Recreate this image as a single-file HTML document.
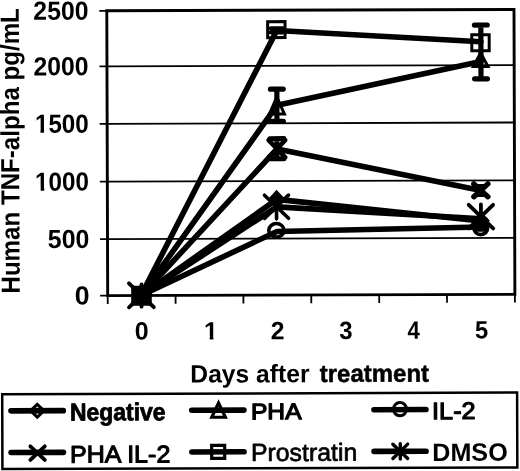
<!DOCTYPE html>
<html><head><meta charset="utf-8"><title>TNF-alpha chart</title>
<style>
html,body{margin:0;padding:0;background:#fff;}
body{width:520px;height:471px;overflow:hidden;}
svg{display:block;filter:grayscale(1);font-family:"Liberation Sans",sans-serif;fill:#000;}
</style></head><body>
<svg width="520" height="471" viewBox="0 0 520 471">
<rect width="520" height="471" fill="#fff"/>
<g transform="rotate(-0.18 260 235.5)">

<line x1="107.5" x2="514.7" y1="238.6" y2="238.6" stroke="#000" stroke-width="1.8"/>
<line x1="107.5" x2="514.7" y1="181.2" y2="181.2" stroke="#000" stroke-width="1.8"/>
<line x1="107.5" x2="514.7" y1="123.3" y2="123.3" stroke="#000" stroke-width="1.8"/>
<line x1="107.5" x2="514.7" y1="65.9" y2="65.9" stroke="#000" stroke-width="1.8"/>
<rect x="107.5" y="10.3" width="407.20000000000005" height="284.84999999999997" fill="none" stroke="#000" stroke-width="2.9"/>
<line x1="100" x2="107.5" y1="295.1" y2="295.1" stroke="#000" stroke-width="1.8"/>
<line x1="100" x2="107.5" y1="238.6" y2="238.6" stroke="#000" stroke-width="1.8"/>
<line x1="100" x2="107.5" y1="181.2" y2="181.2" stroke="#000" stroke-width="1.8"/>
<line x1="100" x2="107.5" y1="123.3" y2="123.3" stroke="#000" stroke-width="1.8"/>
<line x1="100" x2="107.5" y1="65.9" y2="65.9" stroke="#000" stroke-width="1.8"/>
<line x1="100" x2="107.5" y1="10.3" y2="10.3" stroke="#000" stroke-width="1.8"/>
<line x1="107.5" x2="107.5" y1="295.15" y2="303.4" stroke="#000" stroke-width="1.8"/>
<line x1="175.4" x2="175.4" y1="295.15" y2="303.4" stroke="#000" stroke-width="1.8"/>
<line x1="243.2" x2="243.2" y1="295.15" y2="303.4" stroke="#000" stroke-width="1.8"/>
<line x1="311.1" x2="311.1" y1="295.15" y2="303.4" stroke="#000" stroke-width="1.8"/>
<line x1="379.0" x2="379.0" y1="295.15" y2="303.4" stroke="#000" stroke-width="1.8"/>
<line x1="446.8" x2="446.8" y1="295.15" y2="303.4" stroke="#000" stroke-width="1.8"/>
<line x1="514.7" x2="514.7" y1="295.15" y2="303.4" stroke="#000" stroke-width="1.8"/>
<polyline points="140.8,295.1 277.4,30.5 481.5,42.4" fill="none" stroke="#000" stroke-width="5.6" stroke-linejoin="round" stroke-linecap="round"/>
<polyline points="141.2,295.1 277.5,105.3 481.4,62.2" fill="none" stroke="#000" stroke-width="5.6" stroke-linejoin="round" stroke-linecap="round"/>
<polyline points="141.2,295.1 277.4,149.0 481.1,191.2" fill="none" stroke="#000" stroke-width="5.6" stroke-linejoin="round" stroke-linecap="round"/>
<polyline points="140.8,295.1 277.0,199.4 481.0,221.7" fill="none" stroke="#000" stroke-width="5.6" stroke-linejoin="round" stroke-linecap="round"/>
<polyline points="140.8,295.1 277.0,206.9 481.0,219.5" fill="none" stroke="#000" stroke-width="5.6" stroke-linejoin="round" stroke-linecap="round"/>
<polyline points="140.8,295.1 277.0,231.5 481.0,227.7" fill="none" stroke="#000" stroke-width="5.6" stroke-linejoin="round" stroke-linecap="round"/>
<rect x="131.0" y="285.4" width="20.6" height="20" rx="1.5" fill="#000"/>
<path d="M128.8 282.9L153.6 306.9M128.8 306.9L153.6 282.9" stroke="#000" stroke-width="3.8" stroke-linecap="round" fill="none"/>
<path d="M141.3 284.1V306.3" stroke="#000" stroke-width="3.8" stroke-linecap="round" fill="none"/>
<path d="M270.9 89.2H283.7M270.9 121.4H283.7M277.3 89.2V121.4" stroke="#000" stroke-width="5.2" stroke-linecap="round" fill="none"/>
<path d="M277.3 97.1L284.8 114.1H269.8Z" fill="none" stroke="#000" stroke-width="3" stroke-linejoin="miter"/>
<path d="M271.5 28.4H283.5M271.5 32.4H283.5M277.5 28.4V32.4" stroke="#000" stroke-width="4.4" stroke-linecap="round" fill="none"/>
<rect x="268.3" y="21.7" width="17.4" height="16" fill="none" stroke="#000" stroke-width="3"/>
<path d="M270.2 138.7H284.2M270.2 158.8H284.2M277.2 138.7V158.8" stroke="#000" stroke-width="5.0" stroke-linecap="round" fill="none"/>
<path d="M268.9 140.2L285.5 157.4M268.9 157.4L285.5 140.2" stroke="#000" stroke-width="4.6" stroke-linecap="round" fill="none"/>
<path d="M264.6 195.2L288.6 218.4M264.6 218.4L288.6 195.2" stroke="#000" stroke-width="3.6" stroke-linecap="round" fill="none"/><path d="M276.6 194.7V218.9" stroke="#000" stroke-width="3.6" stroke-linecap="round" fill="none"/>
<path d="M276.7 192.1L283.6 199.4L276.7 206.7L269.8 199.4Z" fill="#000" stroke="#000" stroke-width="3" stroke-linejoin="miter"/>
<ellipse cx="276.4" cy="230.4" rx="7.6" ry="6.8" fill="none" stroke="#000" stroke-width="3.6"/>
<path d="M475.1 25.7H487.9M475.1 79.5H487.9M481.5 25.7V79.5" stroke="#000" stroke-width="5.2" stroke-linecap="round" fill="none"/>
<rect x="472.4" y="35.5" width="17.4" height="16" fill="none" stroke="#000" stroke-width="3"/>
<path d="M481.2 53.6L488.5 67.2H473.9Z" fill="none" stroke="#000" stroke-width="3" stroke-linejoin="miter"/>
<path d="M477.1 186.6H485.1M477.1 195.6H485.1M481.1 186.6V195.6" stroke="#000" stroke-width="4.0" stroke-linecap="round" fill="none"/>
<path d="M474.0 184.6L488.0 197.4M474.0 197.4L488.0 184.6" stroke="#000" stroke-width="5.4" stroke-linecap="round" fill="none"/>
<path d="M468.8 205.5L493.2 229.1M468.8 229.1L493.2 205.5" stroke="#000" stroke-width="3.8" stroke-linecap="round" fill="none"/><path d="M481.0 205.0V229.6" stroke="#000" stroke-width="3.8" stroke-linecap="round" fill="none"/>
<path d="M481.0 214.2L487.9 221.5L481.0 228.8L474.1 221.5Z" fill="#000" stroke="#000" stroke-width="3" stroke-linejoin="miter"/>
<rect x="473.6" y="218.5" width="14.8" height="14.0" rx="2" fill="#000"/>
<ellipse cx="480.8" cy="228.7" rx="6.9" ry="6.6" fill="none" stroke="#000" stroke-width="3.6"/>
<text transform="matrix(1.03295 0 0 1.08696 34.03 19.10)" font-size="24" font-weight="bold" >2500</text>
<text transform="matrix(1.03295 0 0 1.08696 34.03 74.70)" font-size="24" font-weight="bold" >2000</text>
<text transform="matrix(1.00980 0 0 1.08696 35.25 132.15)" font-size="24" font-weight="bold" >1500</text><path transform="matrix(1.00980 0 0 1.08696 35.25 132.15)" d="M0.5 -2.9H5.5V1.3H0.5ZM9.02 -2.9H13.9V1.3H9.02Z" fill="#fff"/>
<text transform="matrix(1.00980 0 0 1.08696 35.25 190.00)" font-size="24" font-weight="bold" >1000</text><path transform="matrix(1.00980 0 0 1.08696 35.25 190.00)" d="M0.5 -2.9H5.5V1.3H0.5ZM9.02 -2.9H13.9V1.3H9.02Z" fill="#fff"/>
<text transform="matrix(1.03710 0 0 1.08696 47.75 247.40)" font-size="24" font-weight="bold" >500</text>
<text transform="matrix(1.11404 0 0 1.08696 74.43 303.95)" font-size="24" font-weight="bold" >0</text>
<text transform="matrix(1.04386 0 0 1.03865 134.40 339.20)" font-size="24" font-weight="bold" >0</text>
<text transform="matrix(1.04167 0 0 1.03865 203.65 339.20)" font-size="24" font-weight="bold" >1</text><path transform="matrix(1.04167 0 0 1.03865 203.65 339.20)" d="M0.5 -2.9H5.5V1.3H0.5ZM9.02 -2.9H13.9V1.3H9.02Z" fill="#fff"/>
<text transform="matrix(1.03299 0 0 1.03865 270.53 339.20)" font-size="24" font-weight="bold" >2</text>
<text transform="matrix(1.00168 0 0 1.03865 338.80 339.20)" font-size="24" font-weight="bold" >3</text>
<text transform="matrix(0.92679 0 0 1.03865 407.07 339.20)" font-size="24" font-weight="bold" >4</text>
<text transform="matrix(0.99167 0 0 1.03865 474.69 339.20)" font-size="24" font-weight="bold" >5</text>
<text transform="matrix(1.02699 0 0 1.05072 189.90 382.40)" font-size="24" font-weight="bold" >Days after</text>
<text transform="matrix(1.00147 0 0 1.02053 319.21 382.15)" font-size="24" font-weight="bold"  stroke="#000" stroke-width="0.495" stroke-linejoin="round">treatment</text>
<text transform="translate(19.5 292.77) rotate(-90) scale(1.00554 1.09300)" font-size="24" font-weight="bold">Human TNF-alpha pg/mL</text>
<rect x="1.7" y="393.4" width="514.9" height="74.9" fill="#fff" stroke="#000" stroke-width="2.5"/>
<line x1="10.4" x2="62.8" y1="410.05" y2="410.05" stroke="#000" stroke-width="5.6" stroke-linecap="round"/>
<line x1="10.4" x2="62.8" y1="451.75" y2="451.75" stroke="#000" stroke-width="5.6" stroke-linecap="round"/>
<line x1="191.2" x2="243.4" y1="410.05" y2="410.05" stroke="#000" stroke-width="5.6" stroke-linecap="round"/>
<line x1="191.2" x2="243.4" y1="451.75" y2="451.75" stroke="#000" stroke-width="5.6" stroke-linecap="round"/>
<line x1="373.4" x2="425.4" y1="410.05" y2="410.05" stroke="#000" stroke-width="5.6" stroke-linecap="round"/>
<line x1="373.4" x2="425.4" y1="451.75" y2="451.75" stroke="#000" stroke-width="5.6" stroke-linecap="round"/>
<path d="M36.7 403.7L43.4 410.1L36.7 416.4L30.0 410.1Z" fill="none" stroke="#000" stroke-width="3.0" stroke-linejoin="miter"/>
<path d="M29.7 445.6L44.1 459.2M29.7 459.2L44.1 445.6" stroke="#000" stroke-width="3.8" stroke-linecap="round" fill="none"/>
<path d="M218.0 402.8L224.8 417.1H211.2Z" fill="none" stroke="#000" stroke-width="3.2" stroke-linejoin="miter"/>
<rect x="211.0" y="445.2" width="13.0" height="13.0" fill="none" stroke="#000" stroke-width="3.2"/>
<ellipse cx="399.4" cy="409.6" rx="6.5" ry="6.7" fill="none" stroke="#000" stroke-width="3.0"/>
<path d="M392.2 444.6L407.0 458.9M392.2 458.9L407.0 444.6" stroke="#000" stroke-width="3.4" stroke-linecap="round" fill="none"/><path d="M399.6 444.1V459.4" stroke="#000" stroke-width="3.4" stroke-linecap="round" fill="none"/>
<text transform="matrix(0.95633 0 0 1.02053 69.41 419.90)" font-size="24" font-weight="bold"  stroke="#000" stroke-width="0.809" stroke-linejoin="round">Negative</text>
<text transform="matrix(1.04436 0 0 1.00845 69.34 462.05)" font-size="24" font-weight="normal"  stroke="#000" stroke-width="1.072" stroke-linejoin="round">PHA IL-2</text>
<text transform="matrix(1.02532 0 0 0.94807 250.38 419.35)" font-size="24" font-weight="normal"  stroke="#000" stroke-width="1.318" stroke-linejoin="round">PHA</text>
<text transform="matrix(1.03486 0 0 1.03261 250.26 461.05)" font-size="24" font-weight="normal"  stroke="#000" stroke-width="0.677" stroke-linejoin="round">Prostratin</text>
<text transform="matrix(1.05222 0 0 0.99638 431.53 419.70)" font-size="24" font-weight="normal"  stroke="#000" stroke-width="1.172" stroke-linejoin="round">IL-2</text>
<text transform="matrix(1.04815 0 0 1.05072 431.56 461.50)" font-size="24" font-weight="bold" >DMSO</text>
</g></svg></body></html>
